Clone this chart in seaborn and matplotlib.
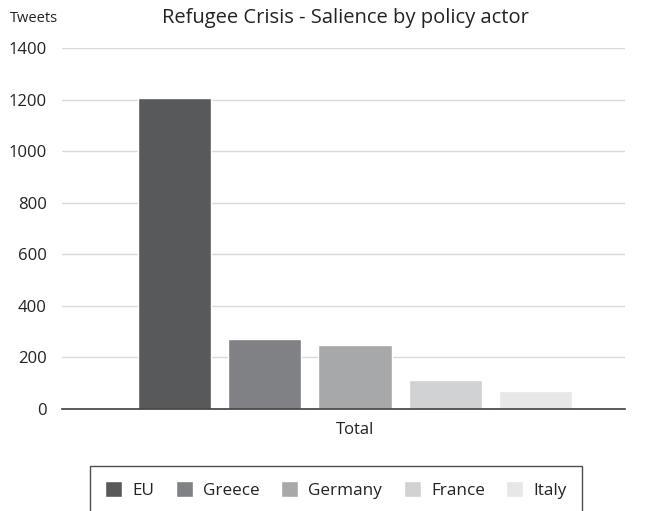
import matplotlib
matplotlib.use("Agg")
import matplotlib.pyplot as plt
import seaborn as sns
import pandas as pd

actors = ["EU", "Greece", "Germany", "France", "Italy"]
tweets = [1205, 272, 249, 113, 70]
colors = ["#58595b", "#808184", "#a7a8aa", "#d1d2d3", "#e6e7e8"]
category = "Total"
yticks = [0, 200, 400, 600, 800, 1000, 1200, 1400]

df = pd.DataFrame({"cat": [category] * len(actors), "actor": actors, "tweets": tweets})

sns.set_style("white")
plt.rcParams["font.family"] = ["Open Sans", "DejaVu Sans"]

fig = plt.figure(figsize=(6.45, 5.11), dpi=100)
ax = fig.add_axes([62 / 645, 1 - 409 / 511, (625 - 62) / 645, (409 - 48) / 511])

sns.barplot(data=df, x="cat", y="tweets", hue="actor", hue_order=actors,
            palette=colors, width=0.8, gap=0.19, saturation=1, ax=ax, legend=True)

ax.set_xlim(-0.519, 0.478)
ax.set_ylim(0, 1400)
ax.set_yticks(yticks)
ax.set_yticklabels([str(v) for v in yticks], fontsize=12, color="#222222")
ax.tick_params(axis="y", length=0, pad=11)
ax.tick_params(axis="x", length=0, pad=9, labelsize=12, labelcolor="#222222")
ax.yaxis.grid(True, color="#d9d9d9", linewidth=1)
ax.set_axisbelow(True)
for s in ["top", "right", "left"]:
    ax.spines[s].set_visible(False)
ax.spines["bottom"].set_color("#404040")
ax.spines["bottom"].set_linewidth(1.2)
ax.set_xlabel("")
ax.set_ylabel("")

fig.text(10 / 645, 1 - 18 / 511, "Tweets", fontsize=10.5, va="center", ha="left", color="#222222")
fig.text(345 / 645, 1 - 18 / 511, "Refugee Crisis - Salience by policy actor",
         fontsize=14.5, va="center", ha="center", color="#222222")

handles, labels = ax.get_legend_handles_labels()
ax.get_legend().remove()
leg = fig.legend(handles, labels, loc="center", bbox_to_anchor=(336 / 645, 1 - 490 / 511),
                 ncol=5, frameon=True, fontsize=12.3, handlelength=1.0, handleheight=1.0,
                 handletextpad=0.6, columnspacing=1.25, borderpad=0.9, fancybox=False)
leg.get_frame().set_edgecolor("#222222")
leg.get_frame().set_linewidth(1.0)
for t in leg.get_texts():
    t.set_color("#222222")

fig.savefig("out.png", dpi=100)
